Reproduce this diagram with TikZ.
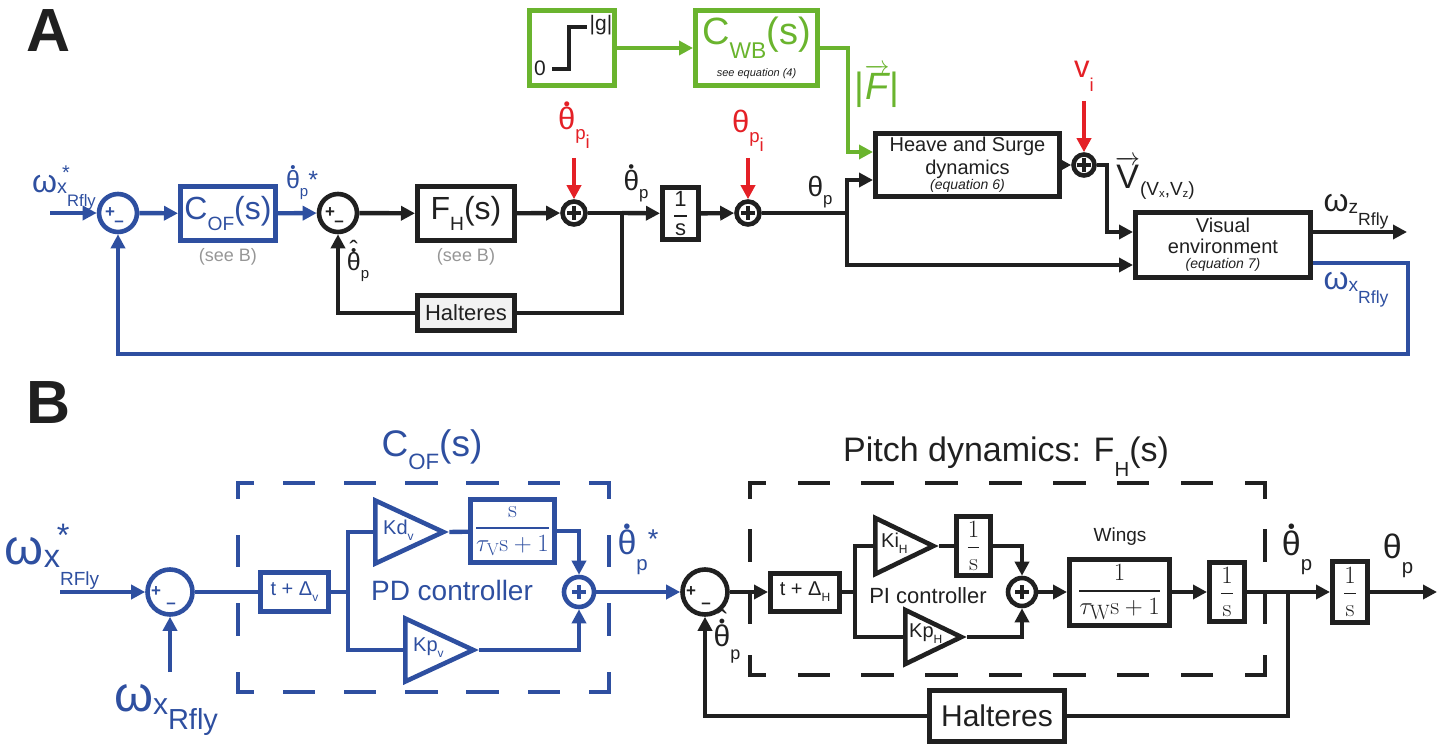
\documentclass[tikz,border=0pt]{standalone}
\usepackage{amsmath}
\usepackage[no-math]{fontspec}
\setmainfont{Liberation Sans}
\usetikzlibrary{arrows.meta, shapes.geometric, calc}

\definecolor{albastru}{RGB}{46,79,160}
\definecolor{verde}{RGB}{106,180,46}
\definecolor{rosu}{RGB}{228,32,38}
\definecolor{negru}{RGB}{32,32,32}
\definecolor{gri}{RGB}{150,150,150}

\newcommand{\fsz}[1]{\fontsize{#1}{#1}\selectfont}
\newcommand{\jos}[2][0.3em]{\raisebox{-#1}{\scalebox{0.6}{#2}}}
\newcommand{\indice}[3]{\raisebox{-#1}{\scalebox{#2}{#3}}}
\newcommand{\punct}{\scalebox{0.6}{•}}
\newcommand{\tdot}{{\ooalign{θ\cr\hidewidth\raisebox{0.64em}{\punct}\hidewidth\cr}}}
\newcommand{\thh}{{\ooalign{θ\cr\hidewidth\raisebox{0.62em}{\punct}\hidewidth\cr
    \hidewidth\raisebox{0.5em}{ˆ}\hidewidth\cr}}}
\newcommand{\frs}[2]{\ensuremath{\genfrac{}{}{2pt}{0}{\hbox{#1}}{\hbox{#2}}}}
\newcommand{\frm}[2]{\ensuremath{\genfrac{}{}{1.6pt}{0}{#1}{#2}}}
\newcommand{\vect}[1]{\ensuremath{\overrightarrow{\hbox{#1}}}}

\begin{document}
\begin{tikzpicture}[x=1pt, y=-1pt, line width=4.4pt, color=negru,
        bloc/.style={draw, line width=5pt, inner sep=0pt, align=center},
        sumator/.style={draw, circle, line width=4.6pt, minimum size=38pt, inner sep=0pt},
        sumplus/.style={draw, circle, line width=4.6pt, minimum size=23pt, inner sep=0pt,
            path picture={\draw[line width=3.2pt] ($(path picture bounding box.center)+(-7,0)$) -- ++(14,0)
                ($(path picture bounding box.center)+(0,-7)$) -- ++(0,14);}},
        semne/.style n args={3}{label={[font=\fsz{17}\bfseries, text=#3, xshift=#1]center:+},
            label={[font=\fsz{17}\bfseries, text=#3, xshift=1pt, yshift=#2]center:--}},
        castig/.style={draw, isosceles triangle, isosceles triangle stretches, shape border rotate=0,
            line width=4.6pt, inner sep=0pt, anchor=lower side},
        eticheta/.style={font=\fsz{28}, inner sep=0pt},
        sageata/.style={-{Triangle[length=14pt, width=14pt]}},
        cadru/.style={inner sep=0pt},
        latura/.style={line width=4.4pt, line cap=rect, dash pattern=on 28pt off #1pt, dash phase=14pt},
    ]
    \useasboundingbox (0,0) rectangle (1445,746);

    % ---------------- A ----------------
    \node[font=\fsz{61}\bfseries] (litA) at (49,31) {A};
    \coordinate (intrare1) at (50,213);
    \node[eticheta, albastru, font=\fsz{32}] (lwx1) at (64,188)
        {ω\indice{0.05em}{0.62}{\rlap{\raisebox{0.7em}{\kern0.25em*}}x}\indice{0.45em}{0.52}{Rfly}};
    \node[sumator, albastru, semne={-8pt}{-11pt}{albastru}] (s1) at (118,213) {};
    \node[bloc, albastru, minimum width=95, minimum height=54, font=\fsz{32}] (cof) at (228,213.5)
        {C\jos[0.35em]{OF}(s)};
    \node[gri, font=\fsz{18}] (vezi1) at (228,257) {(see B)};
    \node[eticheta, albastru, font=\fsz{25}] (lthps) at (302,185) {\tdot\jos{p}*};
    \node[sumator, semne={-8pt}{-11pt}{negru}] (s2) at (338,213) {};
    \node[bloc, minimum width=97, minimum height=54, font=\fsz{32}] (fh) at (466,213.5)
        {F\jos[0.35em]{H}(s)};
    \node[gri, font=\fsz{18}] (vezi2) at (466,257) {(see B)};
    \node[bloc, fill=gray!10, minimum width=97, minimum height=35, font=\fsz{22}] (halt1) at (466,313)
        {Halteres};
    \node[eticheta, font=\fsz{25}] (lthh1) at (358,267) {\thh\jos{p}};
    \node[sumplus] (s3) at (574,213) {};
    \node[eticheta, rosu, font=\fsz{31}] (lthpi) at (574,128) {\tdot\jos{p}\jos[0.6em]{i}};
    \coordinate (r3) at (574,158);
    \coordinate (b1) at (622,213);
    \node[eticheta] (lthp1) at (636,186) {\tdot\jos{p}};
    \node[bloc, minimum width=36, minimum height=52, font=\fsz{22}] (int1) at (680.5,213.5) {\frs{1}{s}};
    \node[sumplus] (s4) at (748,213) {};
    \node[eticheta, rosu, font=\fsz{31}] (lthpi2) at (748,131) {θ\jos{p}\jos[0.6em]{i}};
    \coordinate (r4) at (748,158);
    \node[eticheta] (lthp2) at (820,192) {θ\jos{p}};
    \coordinate (b2) at (847,213);

    \node[bloc, verde, minimum width=85, minimum height=75] (treapta) at (572,48) {};
    \draw[line width=4.4pt] (552,69) -- (569,69) -- (569,27) -- (587,27);
    \node[font=\fsz{21}] (zero) at (540,68) {0};
    \node[font=\fsz{21}] (ampl) at (601,25) {|g|};
    \node[bloc, verde, minimum width=122, minimum height=75] (cwb) at (756.5,48)
        {\fsz{38}C\jos[0.35em]{WB}(s)\\[9pt]{\fsz{11}\itshape\color{negru}see equation (4)}};
    \node[verde, font=\fsz{38}] (lF) at (877,86) {|\vect{\itshape F}|};
    \node[bloc, minimum width=184, minimum height=63, font=\fsz{20}] (heave) at (967.5,165)
        {Heave and Surge\\[3pt]dynamics\\[-5pt]{\fsz{14}\itshape(equation 6)}};
    \node[sumplus, minimum size=21] (s5) at (1084,165) {};
    \node[eticheta, rosu, font=\fsz{31}] (lvi) at (1084,76) {v\jos[0.45em]{i}};
    \coordinate (r5) at (1084,101);
    \node[eticheta, font=\fsz{34}, anchor=west] (lV) at (1113,178)
        {\vect{V}\raisebox{-0.2em}{\fsz{19}(V\jos[0.1em]{x},V\jos[0.1em]{z})}};
    \node[bloc, minimum width=175, minimum height=65, font=\fsz{20}] (vis) at (1223,245)
        {Visual\\[1pt]environment\\[-5pt]{\fsz{14}\itshape(equation 7)}};
    \coordinate (iesire1) at (1407,232);
    \node[eticheta, font=\fsz{32}] (lwz) at (1356,212) {ω\indice{0.05em}{0.6}{z}\indice{0.45em}{0.55}{Rfly}};
    \coordinate (colt) at (1408,354);
    \node[eticheta, albastru, font=\fsz{32}] (lwx2) at (1356,290) {ω\indice{0.05em}{0.6}{x}\indice{0.45em}{0.55}{Rfly}};

    \draw[sageata, albastru] (intrare1) -- (s1);
    \draw[sageata, albastru] (s1) -- (cof);
    \draw[sageata, albastru] (cof) -- (s2);
    \draw[sageata] (s2) -- (fh);
    \draw[sageata] (fh) -- (s3);
    \draw[sageata, rosu] (r3) -- (s3);
    \draw (s3) -- (b1);
    \draw[sageata] (b1) -- (int1);
    \draw (b1) |- (halt1);
    \draw[sageata] (halt1) -| (s2);
    \draw[sageata] (int1) -- (s4);
    \draw[sageata, rosu] (r4) -- (s4);
    \draw (s4) -- (b2);
    \draw[sageata] (b2) |- ($(heave.west)+(0,15)$);
    \draw[sageata] (b2) |- ($(vis.west)+(0,20)$);
    \draw[sageata, verde] (treapta) -- (cwb);
    \draw[sageata, verde] (cwb.east) -| ($(heave.west)+(-25,-13)$) -- ($(heave.west)+(0,-13)$);
    \draw[sageata] (heave) -- (s5);
    \draw[sageata, rosu] (r5) -- (s5);
    \draw[sageata] (s5) -| ($(vis.west)+(-26,-13)$) -- ($(vis.west)+(0,-13)$);
    \draw[sageata] ($(vis.east)+(0,-13)$) -- (iesire1);
    \draw[sageata, albastru] ($(vis.east)+(0,18)$) -| (colt) -| (s1);

    % ---------------- B ----------------
    \node[font=\fsz{61}\bfseries] (litB) at (49,403) {B};
    \coordinate (intrare2) at (60,592);
    \node[eticheta, albastru, font=\fsz{50}] (lwx3) at (52,557)
        {ω\indice{0.05em}{0.65}{\rlap{\raisebox{0.62em}{\kern0.4em*}}x}\indice{0.42em}{0.38}{RFly}};
    \node[sumator, albastru, minimum size=45, semne={-14pt}{-14pt}{albastru}] (sB1) at (170,592) {};
    \coordinate (intrare3) at (170,672);
    \node[eticheta, albastru, font=\fsz{50}] (lwx4) at (166,710) {ω\indice{0.05em}{0.6}{x}\indice{0.35em}{0.58}{Rfly}};
    \node[cadru, minimum width=367, minimum height=205] (cadruCOF) at (423.5,587.5) {};
    \draw[latura=40.3, albastru] (cadruCOF.north west) -- (cadruCOF.south west);
    \draw[latura=40.3, albastru] (cadruCOF.north east) -- (cadruCOF.south east);
    \draw[latura=33.2, albastru] (cadruCOF.north west) -- (cadruCOF.north east);
    \draw[latura=33.2, albastru] (cadruCOF.south west) -- (cadruCOF.south east);
    \node[albastru, font=\fsz{37}] (tcof) at (432,450) {C\jos[0.35em]{OF}(s)};
    \node[bloc, albastru, minimum width=68, minimum height=39, font=\fsz{20}] (tdv) at (294.5,592)
        {t + Δ\jos{v}};
    \coordinate (sp1) at (348,592);
    \node[castig, albastru, minimum width=63, minimum height=68] (kd) at (373,532) {};
    \node[albastru, font=\fsz{20}, anchor=west, inner sep=0pt] (kdt) at (381,530) {Kd\jos{v}};
    \node[bloc, albastru, minimum width=84, minimum height=63, font=\fsz{26}] (deriv) at (512.5,531)
        {\frm{\mathrm{s}}{\tau_{\mathrm{V}}\mathrm{s}+1}};
    \node[sumplus, albastru, minimum size=30] (sPD) at (579,592) {};
    \node[castig, albastru, minimum width=63, minimum height=68] (kp) at (403,650) {};
    \node[albastru, font=\fsz{20}, anchor=west, inner sep=0pt] (kpt) at (411,648) {Kp\jos{v}};
    \node[albastru, font=\fsz{28}] (pdc) at (452,590) {PD controller};
    \node[eticheta, albastru, font=\fsz{34}] (lthps2) at (638,552)
        {\tdot\jos[0.45em]{p}\raisebox{0.2em}{\scalebox{0.8}{*}}};

    \node[sumator, minimum size=45, semne={-14pt}{-14pt}{negru}] (sB2) at (705,592) {};
    \node[cadru, minimum width=511, minimum height=188] (cadruFH) at (1007.5,579) {};
    \draw[latura=34.7] (cadruFH.north west) -- (cadruFH.south west);
    \draw[latura=34.7] (cadruFH.north east) -- (cadruFH.south east);
    \draw[latura=35.9] (cadruFH.north west) -- (cadruFH.north east);
    \draw[latura=35.9] (cadruFH.south west) -- (cadruFH.south east);
    \node[font=\fsz{34}] (tfh) at (1006,457) {Pitch dynamics: F\jos[0.45em]{H}(s)};
    \node[bloc, minimum width=69, minimum height=38, font=\fsz{20}] (tdh) at (805,592) {t + Δ\jos{H}};
    \coordinate (sp2) at (855,592);
    \node[castig, minimum width=56, minimum height=58] (ki) at (873,546) {};
    \node[font=\fsz{20}, anchor=west, inner sep=0pt] (kit) at (879,543) {Ki\jos{H}};
    \node[bloc, minimum width=34, minimum height=59, font=\fsz{26}] (intB1) at (973.5,546)
        {\frm{1}{\mathrm{s}}};
    \node[sumplus, minimum size=28] (sPI) at (1022,592) {};
    \node[castig, minimum width=54, minimum height=56] (kph) at (903,637) {};
    \node[font=\fsz{20}, anchor=west, inner sep=0pt] (kpht) at (907,634) {Kp\jos{H}};
    \node[font=\fsz{22}] (pic) at (928,596) {PI controller};
    \node[bloc, minimum width=100, minimum height=66, font=\fsz{28}] (wings) at (1119.5,592)
        {\frm{1}{\tau_{\mathrm{W}}\mathrm{s}+1}};
    \node[font=\fsz{19}] (lwings) at (1120,537) {Wings};
    \node[bloc, minimum width=35, minimum height=59, font=\fsz{26}] (intB2) at (1227,592)
        {\frm{1}{\mathrm{s}}};
    \coordinate (b3) at (1288,592);
    \node[bloc, minimum width=35, minimum height=61, font=\fsz{26}] (intB3) at (1350,592)
        {\frm{1}{\mathrm{s}}};
    \coordinate (iesire2) at (1437,592);
    \node[eticheta, font=\fsz{34}] (lthp3) at (1297,553) {\tdot\jos[0.45em]{p}};
    \node[eticheta, font=\fsz{34}] (lthp4) at (1398,556) {θ\jos[0.45em]{p}};
    \node[bloc, minimum width=135, minimum height=51, font=\fsz{30}] (haltB) at (997,716) {Halteres};
    \node[eticheta, font=\fsz{30}] (lthh2) at (727,644) {\thh\jos[0.45em]{p}};

    \draw[sageata, albastru] (intrare2) -- (sB1);
    \draw[sageata, albastru] (intrare3) -- (sB1);
    \draw[albastru] (sB1) -- (tdv);
    \draw[albastru] (tdv) -- (sp1);
    \draw[albastru] (sp1) |- (kd.lower side);
    \draw[albastru] (sp1) |- (kp.lower side);
    \draw[albastru] (kd.apex) -- (deriv);
    \draw[sageata, albastru] (deriv.east) -| (sPD);
    \draw[sageata, albastru] (kp.apex) -| (sPD);
    \draw[sageata, albastru] (sPD) -- (sB2);
    \draw[sageata] (sB2) -- (tdh);
    \draw (tdh) -- (sp2);
    \draw (sp2) |- (ki.lower side);
    \draw (sp2) |- (kph.lower side);
    \draw (ki.apex) -- (intB1);
    \draw[sageata] (intB1) -| (sPI);
    \draw[sageata] (kph.apex) -| (sPI);
    \draw[sageata] (sPI) -- (wings);
    \draw[sageata] (wings) -- (intB2);
    \draw (intB2) -- (b3);
    \draw[sageata] (b3) -- (intB3);
    \draw[sageata] (intB3) -- (iesire2);
    \draw (b3) |- (haltB);
    \draw[sageata] (haltB) -| (sB2);
\end{tikzpicture}
\end{document}
